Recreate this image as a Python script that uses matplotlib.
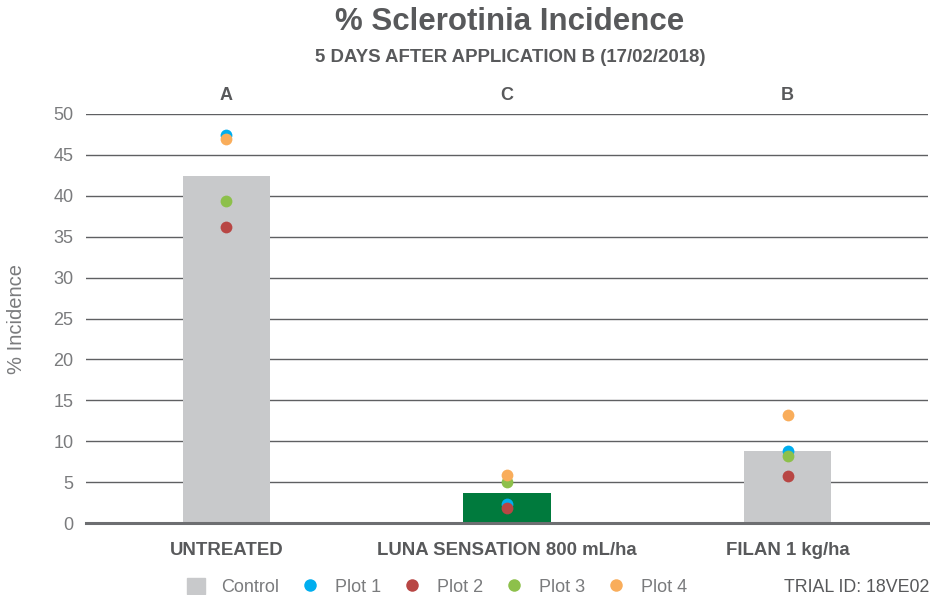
import matplotlib; matplotlib.use("Agg")
import matplotlib.pyplot as plt
from matplotlib.lines import Line2D
from matplotlib.patches import Patch

# ------------------------------------------------------------------ data
treatments = ["UNTREATED", "LUNA SENSATION 800 mL/ha", "FILAN 1 kg/ha"]
letters    = ["A", "C", "B"]
means      = [42.4, 3.7, 8.8]
plot1      = [47.4, 2.3, 8.8]
plot2      = [36.2, 1.8, 5.7]
plot3      = [39.4, 5.0, 8.2]
plot4      = [46.9, 5.9, 13.2]
yticks     = [0, 5, 10, 15, 20, 25, 30, 35, 40, 45, 50]

bar_cols = ["#c8c9cb", "#007a3d", "#c8c9cb"]
dot_cols = {"Plot 1": "#00aeef", "Plot 2": "#b84644", "Plot 3": "#8dc04b", "Plot 4": "#f9ad5b"}
txt_grey, dark = "#7a7b7d", "#58595b"

plt.rcParams["font.family"] = ["Liberation Sans", "DejaVu Sans"]
fig = plt.figure(figsize=(9.3, 5.95), dpi=100)
ax = fig.add_axes([86 / 930, 1 - 523 / 595, 842 / 930, 409 / 595])

x = list(range(len(treatments)))
ax.bar(x, means, width=0.31, color=bar_cols, zorder=2)
for lab, vals in zip(dot_cols, [plot1, plot2, plot3, plot4]):
    ax.scatter(x, vals, s=72, color=dot_cols[lab], zorder=3, linewidths=0)

ax.set_xlim(-0.5, 2.5); ax.set_ylim(0, 50)
ax.set_yticks(yticks)
ax.set_yticklabels([str(t) for t in yticks], color=txt_grey, fontsize=13)
ax.tick_params(axis="y", length=0, pad=9)
ax.grid(axis="y", color="#5f6062", lw=1, zorder=1)
ax.set_xticks(x)
ax.set_xticklabels(treatments, fontweight="bold", color=dark, fontsize=13.4)
ax.tick_params(axis="x", length=0, pad=14)
for s in ["top", "right", "left"]:
    ax.spines[s].set_visible(False)
ax.spines["bottom"].set_color("#6d6e71"); ax.spines["bottom"].set_linewidth(2.2)
ax.set_ylabel("% Incidence", color=txt_grey, fontsize=14.5, labelpad=20)

for xi, l in zip(x, letters):
    ax.text(xi, 52.3, l, ha="center", va="center", fontweight="bold",
            color=dark, fontsize=13, clip_on=False)

fig.text(510 / 930, 1 - 22 / 595, "% Sclerotinia Incidence", ha="center", va="center",
         fontsize=22.5, fontweight="bold", color=dark)
fig.text(510 / 930, 1 - 58 / 595, "5 DAYS AFTER APPLICATION B (17/02/2018)", ha="center",
         va="center", fontsize=13.4, fontweight="bold", color=dark)
fig.text(929 / 930, 1 - 587 / 595, "TRIAL ID: 18VE02", ha="right", va="center",
         fontsize=12.8, color=dark)

handles = [Patch(color="#c8c9cb", label="Control")] + [
    Line2D([], [], ls="", marker="o", ms=9, mec="none", color=c, label=l)
    for l, c in dot_cols.items()]
leg = fig.legend(handles=handles, loc="center", bbox_to_anchor=(437 / 930, 1 - 587 / 595),
                 ncol=5, frameon=False, fontsize=13, handlelength=1.0, handleheight=1.0,
                 columnspacing=1.2, handletextpad=0.9)
for t in leg.get_texts():
    t.set_color(txt_grey)

fig.savefig("out.png", dpi=100)
